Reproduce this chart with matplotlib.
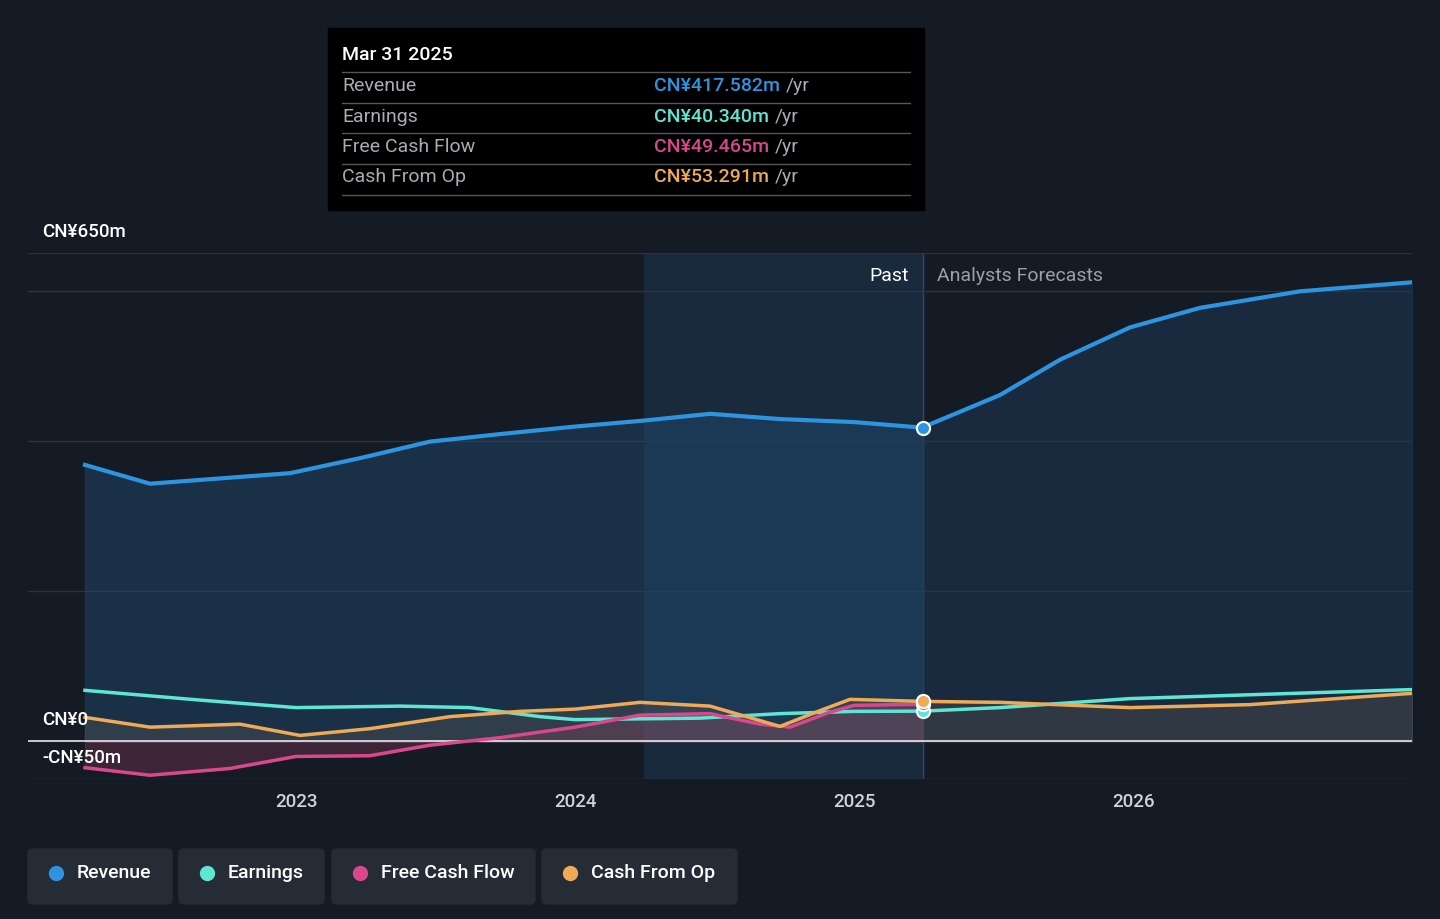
import numpy as np
import matplotlib.pyplot as plt
from matplotlib.patches import FancyBboxPatch, Rectangle

plt.rcParams['font.family'] = ['Roboto', 'DejaVu Sans']

W, H = 1440, 919
BG = "#151b24"

def yr(px):
    return 2023 + (px - 296) / 279.3

# values (CN¥m), x positions converted to years
rev_x = [yr(p) for p in [85, 150, 230, 290, 360, 430, 500, 575, 644, 710, 780, 854, 922]]
rev_y = [368, 343, 351, 357, 377, 399, 409, 419, 427, 436, 429, 425, 417.6]
rev_fx = [yr(p) for p in [922, 1000, 1060, 1130, 1200, 1300, 1412]]
rev_fy = [417.6, 461, 508, 551, 577, 599, 611]

earn_x = [yr(p) for p in [85, 200, 296, 400, 470, 540, 575, 700, 780, 854, 922, 1000, 1130, 1412]]
earn_y = [68, 55, 45, 47, 45, 33, 29, 31, 37, 40, 40.3, 45, 57, 69]

fcf_x = [yr(p) for p in [85, 150, 230, 296, 370, 430, 500, 575, 640, 710, 760, 790, 830, 854, 922]]
fcf_y = [-35, -45, -36, -20, -19, -5, 5, 19, 35, 37, 23, 19, 39, 48, 49.5]

cfo_x = [yr(p) for p in [85, 150, 240, 300, 370, 450, 520, 575, 640, 710, 780, 820, 850, 922, 1000, 1130, 1250, 1412]]
cfo_y = [32, 19, 23, 8, 17, 33, 40, 43, 52, 47, 20, 41, 56, 53.3, 52, 45, 49, 64]

tip_rows = [("Revenue", "CN¥417.582m", "#2d94e0"),
            ("Earnings", "CN¥40.340m", "#5ee6d4"),
            ("Free Cash Flow", "CN¥49.465m", "#d9488c"),
            ("Cash From Op", "CN¥53.291m", "#eeaa55")]

fig = plt.figure(figsize=(W / 100, H / 100), dpi=100, facecolor=BG)
ax = fig.add_axes([28 / W, (H - 779) / H, (1412 - 28) / W, (779 - 253) / H])
ax.set_facecolor(BG)
ax.set_xlim(yr(28), yr(1412))
ax.set_ylim(-50, 650)
for s in ax.spines.values():
    s.set_visible(False)
ax.set_yticks([])
ax.set_xticks([2023, 2024, 2025, 2026])
ax.set_xticklabels(["2023", "2024", "2025", "2026"], color="#cfd3d8", fontsize=13.5, fontweight="medium")
ax.tick_params(axis="x", length=0, pad=10)

past = yr(923)
ax.axvspan(yr(644), past, color="#1a2c40", alpha=0.9, zorder=0)
ax.axvline(past, color="#2b4a66", lw=1, zorder=1)
for g in [-50, 200, 400, 600, 650]:
    ax.axhline(g, color="#2c333d", lw=1, zorder=1)
ax.axhline(0, color="#e8e8e8", lw=1.2, zorder=4)

ax.fill_between(rev_x, rev_y, 0, color="#1e4a73", alpha=0.45, zorder=2)
ax.fill_between(rev_fx, rev_fy, 0, color="#1e3a58", alpha=0.5, zorder=2)
ax.plot(rev_x + rev_fx[1:], rev_y + rev_fy[1:], color="#2d94e0", lw=3, zorder=5)
ax.fill_between(fcf_x, fcf_y, 0, color="#8a3a60", alpha=0.35, zorder=2)
ax.fill_between(cfo_x, cfo_y, 0, color="#776655", alpha=0.25, zorder=2)
ax.plot(earn_x, earn_y, color="#5ee6d4", lw=2.5, zorder=5)
ax.plot(fcf_x, fcf_y, color="#d9488c", lw=2.5, zorder=5)
ax.plot(cfo_x, cfo_y, color="#eeaa55", lw=2.5, zorder=6)
for v, c in [(417.6, "#2d94e0"), (40.3, "#5ee6d4"), (49.5, "#d9488c"), (53.3, "#eeaa55")]:
    ax.scatter([past], [v], s=90, color=c, edgecolor="white", lw=1.5, zorder=7)

ax.text(past - 0.05, 620, "Past", color="white", fontsize=14, ha="right", va="center")
ax.text(past + 0.05, 620, "Analysts Forecasts", color="#9aa0a8", fontsize=14, ha="left", va="center")

fig.text(42 / W, 1 - 232 / H, "CN¥650m", color="white", fontsize=13.5, va="center", fontweight="medium")
fig.text(42 / W, 1 - 720 / H, "CN¥0", color="white", fontsize=13.5, va="center", fontweight="medium")
fig.text(42 / W, 1 - 758 / H, "-CN¥50m", color="white", fontsize=13.5, va="center", fontweight="medium")

# tooltip
fig.patches.append(Rectangle((328 / W, 1 - 210 / H), 596 / W, 182 / H,
                             transform=fig.transFigure, color="black", zorder=10))
fig.text(342 / W, 1 - 55 / H, "Mar 31 2025", color="white", fontsize=14, va="center",
         fontweight="medium", zorder=11)
renderer = fig.canvas.get_renderer()
for i, (name, val, c) in enumerate(tip_rows):
    yy = 86 + i * 30.5
    fig.add_artist(plt.Line2D([342 / W, 910 / W], [1 - (yy - 14) / H] * 2, color="#555", lw=1, zorder=11))
    fig.text(342 / W, 1 - yy / H, name, color="#a8adb3", fontsize=14, va="center", zorder=11)
    t = fig.text(654 / W, 1 - yy / H, val, color=c, fontsize=14, va="center",
                 fontweight="medium", zorder=11)
    x_end = t.get_window_extent(renderer).x1
    fig.text((x_end + 6) / W, 1 - yy / H, "/yr", color="#a8adb3", fontsize=14, va="center", zorder=11)
fig.add_artist(plt.Line2D([342 / W, 910 / W], [1 - 195 / H] * 2, color="#555", lw=1, zorder=11))

# legend buttons
buttons = [("Revenue", "#2d94e0", 28, 172), ("Earnings", "#5ee6d4", 179, 324),
           ("Free Cash Flow", "#d9488c", 332, 535), ("Cash From Op", "#eeaa55", 542, 737)]
for name, c, x0, x1 in buttons:
    fig.patches.append(FancyBboxPatch((x0 / W, 1 - 904 / H), (x1 - x0) / W, 55 / H,
                                      boxstyle="round,pad=0,rounding_size=0.004",
                                      transform=fig.transFigure, color="#252c36"))
    fig.add_artist(plt.Line2D([(x0 + 28) / W], [1 - 873 / H], marker="o", ms=10, color=c, lw=0))
    fig.text((x0 + 49) / W, 1 - 873 / H, name, color="white", fontsize=14, va="center",
             fontweight="medium")

fig.savefig("out.png", dpi=100, facecolor=BG)
